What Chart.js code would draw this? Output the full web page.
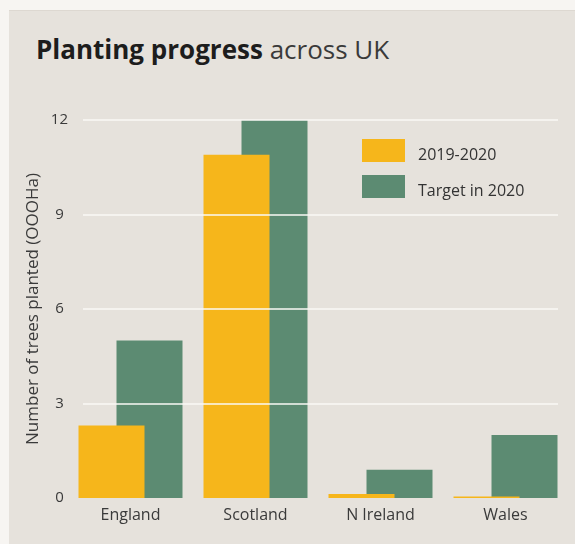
<!DOCTYPE html>
<html>
<head>
<meta charset="utf-8">
<script src="https://cdn.jsdelivr.net/npm/chart.js@4"></script>
<style>
  html, body { margin:0; padding:0; background:#f7f5f2; }
  #wrap { position:relative; width:575px; height:544px; overflow:hidden; }
  #panel { position:absolute; left:9px; top:10px; right:0; bottom:0; background:#e6e2dc; border-top:1px solid #ddd8d1; }
  #title { position:absolute; left:36px; top:31px; font-family:"Open Sans", sans-serif; font-size:26px; color:#1d1d1d; white-space:nowrap; }
  #title b { font-weight:700; }
  #title span { font-weight:400; color:#3a3a3a; }
  canvas { position:absolute; left:0; top:0; }
</style>
</head>
<body>
<div id="wrap">
  <div id="panel"></div>
  <div id="title"><b>Planting progress</b> <span>across UK</span></div>
  <canvas id="c" width="575" height="544"></canvas>
</div>
<script>
const categories = ['England', 'Scotland', 'N Ireland', 'Wales'];
const planted2019 = [2.3, 10.9, 0.13, 0.05];
const target2020 = [5, 12, 0.9, 2];
const seriesLabels = ['2019-2020', 'Target in 2020'];
const yTicks = [0, 3, 6, 9, 12];

const YELLOW = '#f6b61b';
const GREEN = '#5c8b72';
const FONT = '"Open Sans", sans-serif';

const gridPlugin = {
  id: 'customGrid',
  afterDatasetsDraw(chart) {
    const { ctx, chartArea, scales } = chart;
    ctx.save();
    ctx.strokeStyle = 'rgba(250,248,245,0.75)';
    ctx.lineWidth = 2;
    scales.y.ticks.forEach(t => {
      if (t.value === 0) return;
      const y = Math.round(scales.y.getPixelForValue(t.value));
      ctx.beginPath();
      ctx.moveTo(chartArea.left + 15, y);
      ctx.lineTo(chartArea.right - 10, y);
      ctx.stroke();
    });
    ctx.restore();
  }
};

const legendPlugin = {
  id: 'customLegend',
  afterDraw(chart) {
    const { ctx } = chart;
    ctx.save();
    ctx.font = '16px ' + FONT;
    ctx.textBaseline = 'middle';
    chart.data.datasets.forEach((ds, i) => {
      const bx = 362, by = 139 + i * 36;
      ctx.fillStyle = ds.backgroundColor;
      ctx.fillRect(bx, by, 43, 23);
      ctx.fillStyle = '#333';
      ctx.fillText(ds.label, 418, by + 16);
    });
    ctx.restore();
  }
};

new Chart(document.getElementById('c'), {
  type: 'bar',
  data: {
    labels: categories,
    datasets: [
      { label: seriesLabels[0], data: planted2019, backgroundColor: YELLOW },
      { label: seriesLabels[1], data: target2020, backgroundColor: GREEN }
    ]
  },
  options: {
    responsive: false,
    animation: false,
    devicePixelRatio: 1,
    categoryPercentage: 0.608,
    barPercentage: 1.737,
    layout: { padding: { left: 0, right: 7, top: 120, bottom: 0 } },
    plugins: { legend: { display: false }, tooltip: { enabled: false } },
    scales: {
      x: {
        grid: { display: false, drawTicks: false },
        border: { display: false },
        ticks: { color: '#3a3a3a', font: { family: FONT, size: 16 }, padding: 8 },
        afterFit(s) { s.height = 46; }
      },
      y: {
        min: 0, max: 12,
        afterBuildTicks(s) { s.ticks = yTicks.map(v => ({ value: v })); },
        grid: { display: false, drawTicks: false },
        border: { display: false },
        ticks: { color: '#3a3a3a', font: { family: FONT, size: 15 }, padding: 0, crossAlign: 'center' },
        title: { display: true, text: 'Number of trees planted (OOOHa)', color: '#3a3a3a', font: { family: FONT, size: 17 }, padding: { top: 23, bottom: 0 } },
        afterFit(s) { s.width = 68; }
      }
    }
  },
  plugins: [gridPlugin, legendPlugin]
});
</script>
</body>
</html>
